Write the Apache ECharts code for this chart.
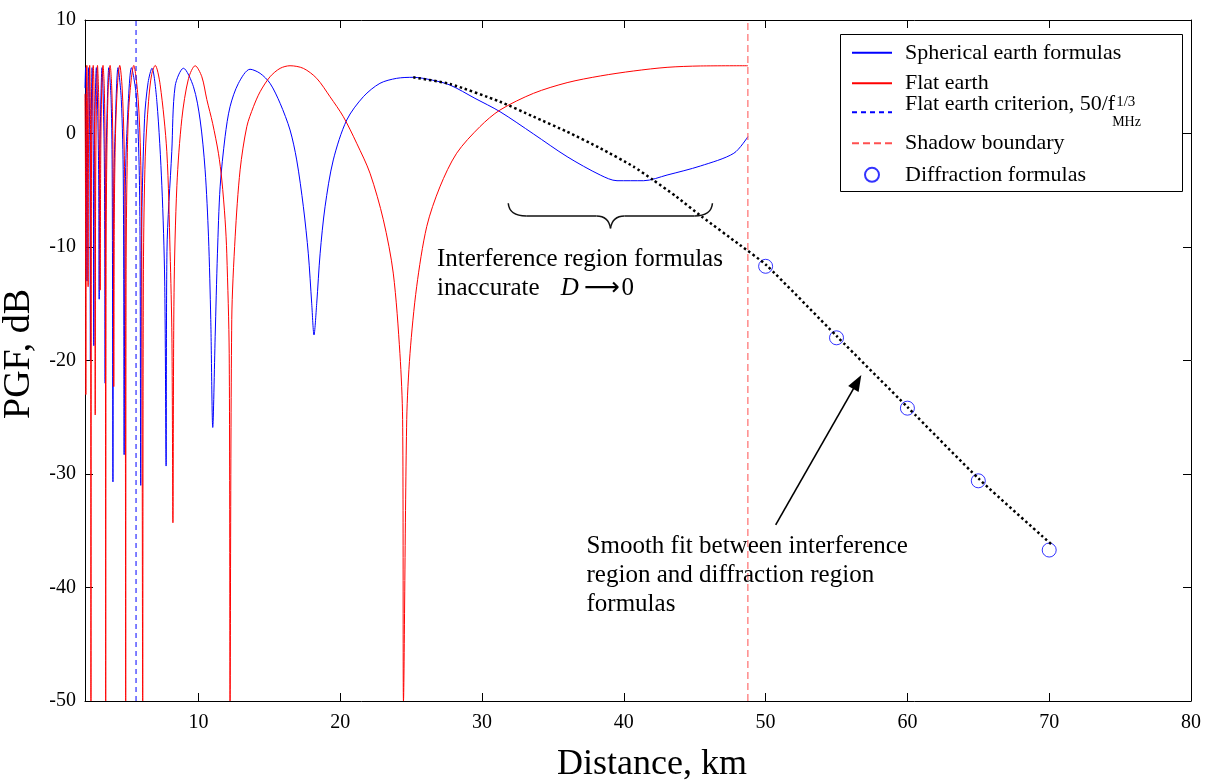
<!DOCTYPE html>
<html>
<head>
<meta charset="utf-8">
<script src="https://cdn.jsdelivr.net/npm/echarts@6/dist/echarts.min.js"></script>
<style>
html,body{margin:0;padding:0;background:#fff;}
#c{width:1205px;height:780px;}
</style>
</head>
<body>
<div id="c"></div>
<script>
// ---------- data ----------
const xTicks = [10, 20, 30, 40, 50, 60, 70, 80];
const yTicks = [-50, -40, -30, -20, -10, 0, 10];

const sphericalEarth = [
[2.0,4.0],[2.04,5.8],[2.1,-1],[2.14,-13],[2.18,-1],[2.26,5.8],[2.34,-1],[2.38,-20],[2.42,-2],[2.5,5.8],
[2.58,-1],[2.62,-18.7],[2.66,-2],[2.8,5.8],[2.95,-2],[3.0,-14.6],[3.05,-2],[3.2,5.8],[3.36,-2],[3.42,-22],
[3.47,-4],[3.56,2],[3.68,5.8],[3.84,3],[3.92,-4],[3.97,-30.7],[4.02,-6],[4.12,0],[4.33,5.8],[4.56,3],
[4.7,-4],[4.76,-28.3],[4.83,-6],[4.95,0],[5.28,5.8],[5.6,3.5],[5.8,-2],[5.88,-9],[5.93,-31],[5.99,-9],
[6.2,1.3],[6.45,4.5],[6.72,5.75],[7.07,2.8],[7.42,-4.6],[7.62,-13],[7.72,-29.3],[7.78,-10.4],[8.12,-1.6],[8.36,4.2],
[8.94,5.75],[9.65,4.12],[10.12,1.19],[10.47,-3.2],[10.71,-9.1],[10.87,-16.4],[11.01,-25.9],[11.18,-17.9],[11.34,-10.6],[11.53,-4.7],
[11.88,-0.28],[12.23,2.36],[12.82,4.42],[13.64,5.66],[14.35,5.3],[15.05,4.42],[15.76,2.66],[16.46,0.31],[16.93,-2.33],[17.4,-6.45],
[17.75,-10.6],[17.99,-15.0],[18.15,-17.75],[18.34,-15.0],[18.58,-10.6],[18.93,-6.45],[19.51,-2.33],[20.46,1.19],[21.63,3.24],[22.8,4.42],
[23.98,4.86],[25.15,4.95],[26.5,4.7],[27.74,4.27],[29.5,3.1],[31.27,1.92],[33.63,-0.04],[36.0,-2.04],[38.34,-3.66],[39.52,-4.16],
[41.4,-4.16],[43.05,-3.66],[45.41,-2.86],[47.76,-1.74],[48.75,-0.28]
];

const flatEarth = [
[2.0,3.5],[2.03,-3],[2.06,-23],[2.09,-2],[2.13,6],[2.18,0],[2.22,-13.5],[2.25,-1],[2.33,6],[2.39,0],
[2.42,-50],[2.45,-6],[2.5,2.5],[2.58,6],[2.66,2],[2.7,-6],[2.72,-24.8],[2.75,-5],[2.8,2],[2.88,6],
[2.97,3],[3.03,-4],[3.07,-13.8],[3.11,-2],[3.18,4],[3.27,6],[3.37,3.5],[3.43,-4],[3.46,-50],[3.49,-10],
[3.55,-1],[3.65,4.5],[3.77,6],[3.9,3.5],[3.98,-3],[4.03,-22.3],[4.07,-7],[4.15,0],[4.3,4.5],[4.45,6],
[4.62,4],[4.76,-1],[4.83,-9],[4.87,-50],[4.9,-12],[4.97,-3],[5.1,2.5],[5.44,6],[5.75,3],[5.92,-2],
[6.0,-9],[6.07,-50],[6.12,-12],[6.25,-2],[6.48,2.8],[6.7,5.2],[6.95,6],[7.3,4.3],[7.77,-1.6],[8.0,-10.4],
[8.13,-18],[8.2,-34.3],[8.28,-14],[8.48,-4.6],[8.83,1.3],[9.3,4.85],[9.77,5.97],[10.24,5.0],[10.59,3.0],[11.0,0.9],
[11.41,-1.74],[11.65,-4.1],[11.88,-7.6],[12.0,-10.6],[12.17,-19.4],[12.23,-50],[12.35,-16.4],[12.59,-9.1],[12.94,-3.2],[13.41,0.6],
[13.88,2.36],[14.35,3.68],[15.05,5.0],[15.76,5.74],[16.46,5.97],[17.4,5.74],[18.34,4.86],[19.28,3.24],[20.22,1.48],[21.16,-0.86],
[22.1,-3.5],[23.04,-7.6],[23.74,-12.3],[24.21,-19.4],[24.4,-25.2],[24.46,-50],[24.69,-25.2],[24.92,-19.4],[25.39,-13.5],[26.1,-8.2],
[27.03,-4.7],[28.21,-1.74],[29.85,0.6],[31.27,2.07],[33.63,3.54],[36.0,4.48],[38.34,5.07],[40.7,5.51],[43.05,5.83],[45.41,5.95],
[48.75,5.97]
];

const flatEarthCriterion = [[5.6,-50],[5.6,10]];
const shadowBoundary = [[48.75,-50],[48.75,10]];
const diffraction = [[50,-11.7],[55,-18.0],[60,-24.2],[65,-30.6],[70,-36.7]];
const smoothFit = [
[25.15,4.95],[27.74,4.36],[31.27,2.8],[33.63,1.48],[35.99,0.16],[38.34,-1.3],[40.69,-2.92],[42.07,-4.1],
[43.71,-5.57],[45.5,-7.33],[48.18,-9.82],[50.05,-11.6],[55.05,-17.9],[60.04,-24.15],[65.1,-30.5],[70.25,-36.3]
];

// ---------- chart ----------
const FONT = '"Liberation Serif", "Times New Roman", serif';
const BLUE = '#0000ff', RED = '#ff0000';
const LEG_SIZE = 22;

const mctx = document.createElement('canvas').getContext('2d');
mctx.font = LEG_SIZE + 'px "Liberation Serif"';
const wCrit = mctx.measureText('Flat earth criterion, 50/f').width;

const legendBase = {
  orient: 'vertical', left: 851, padding: 0, itemWidth: 40, itemHeight: 14,
  selectedMode: false,
  textStyle: {fontFamily: FONT, fontSize: LEG_SIZE, lineHeight: 21, color: '#000', padding: [0, 0, 0, 8]}
};

const axisLineStyle = {show: true, onZero: false, lineStyle: {color: '#000', width: 1}};

const chart = echarts.init(document.getElementById('c'), null, {renderer: 'canvas'});
const option = {
  animation: false,
  backgroundColor: '#fff',
  textStyle: {fontFamily: FONT},
  grid: {left: 85, right: 14, top: 20, bottom: 79, containLabel: false, outerBoundsMode: 'none'},
  xAxis: [
    {type: 'value', min: 2, max: 80, position: 'bottom',
     name: 'Distance, km', nameLocation: 'middle', nameGap: 46,
     nameTextStyle: {fontFamily: FONT, fontSize: 36, color: '#000', padding: [0, 0, 0, 28]},
     axisLine: axisLineStyle,
     axisTick: {show: true, inside: true, length: 8, customValues: xTicks, lineStyle: {color: '#000'}},
     axisLabel: {show: true, customValues: xTicks, fontFamily: FONT, fontSize: 20, color: '#000', margin: 12},
     splitLine: {show: false}},
    {type: 'value', min: 2, max: 80, position: 'top',
     axisLine: axisLineStyle,
     axisTick: {show: true, inside: true, length: 8, customValues: xTicks, lineStyle: {color: '#000'}},
     axisLabel: {show: false}, splitLine: {show: false}}
  ],
  yAxis: [
    {type: 'value', min: -50, max: 10, interval: 10, position: 'left',
     name: 'PGF, dB', nameLocation: 'middle', nameGap: 27, nameRotate: 90,
     nameTextStyle: {fontFamily: FONT, fontSize: 38, color: '#000', padding: [0, 0, 0, 13]},
     axisLine: axisLineStyle,
     axisTick: {show: true, inside: true, length: 8, customValues: yTicks, lineStyle: {color: '#000'}},
     axisLabel: {show: true, customValues: yTicks, fontFamily: FONT, fontSize: 20, color: '#000', margin: 9},
     splitLine: {show: false}},
    {type: 'value', min: -50, max: 10, interval: 10, position: 'right',
     axisLine: axisLineStyle,
     axisTick: {show: true, inside: true, length: 8, customValues: yTicks, lineStyle: {color: '#000'}},
     axisLabel: {show: false}, splitLine: {show: false}}
  ],
  legend: [
    Object.assign({}, legendBase, {top: 41.8, itemGap: 8.4, itemStyle: {opacity: 0},
      data: ['Spherical earth formulas', 'Flat earth']}),
    Object.assign({}, legendBase, {top: 93.7, itemGap: 0, itemStyle: {opacity: 0},
      data: ['Flat earth criterion'],
      formatter: function () { return '{m|Flat earth criterion, 50/f}{sup|1/3}\n{gap| }{sub|MHz}'; },
      textStyle: Object.assign({}, legendBase.textStyle, {
        rich: {
          m: {fontFamily: FONT, fontSize: LEG_SIZE, lineHeight: 21, color: '#000'},
          sup: {fontFamily: FONT, fontSize: 15, lineHeight: 8, verticalAlign: 'top', color: '#000', padding: [0, 0, 0, 1]},
          gap: {fontFamily: FONT, fontSize: 14, lineHeight: 15, width: wCrit - 3},
          sub: {fontFamily: FONT, fontSize: 14, lineHeight: 15, color: '#000'}
        }
      })}),
    Object.assign({}, legendBase, {top: 132.2, itemGap: 9.6,
      data: [{name: 'Shadow boundary', itemStyle: {opacity: 0}}, 'Diffraction formulas']})
  ],
  series: [
    {name: 'Spherical earth formulas', type: 'line', data: sphericalEarth, symbol: 'none', showSymbol: false,
     smooth: 0.3,
     lineStyle: {color: BLUE, width: 1}, itemStyle: {color: BLUE}, z: 3},
    {name: 'Flat earth', type: 'line', data: flatEarth, symbol: 'none', showSymbol: false,
     smooth: 0.3,
     lineStyle: {color: RED, width: 1}, itemStyle: {color: RED}, z: 3},
    {name: 'Flat earth criterion', type: 'line', data: flatEarthCriterion, symbol: 'none', showSymbol: false,
     lineStyle: {color: BLUE, width: 1, type: [5, 4]}, itemStyle: {color: BLUE}, z: 3},
    {name: 'Shadow boundary', type: 'line', data: shadowBoundary, symbol: 'none', showSymbol: false,
     lineStyle: {color: '#ff5050', width: 1, type: [7, 4]}, itemStyle: {color: '#ff5050'}, z: 3},
    {name: 'Diffraction formulas', type: 'scatter', data: diffraction, symbol: 'circle', symbolSize: 14,
     itemStyle: {color: 'rgba(0,0,0,0)', borderColor: BLUE, borderWidth: 1}, z: 3},
    {name: 'Smooth fit', type: 'line', data: smoothFit, symbol: 'none', showSymbol: false, smooth: 0.2,
     lineStyle: {color: '#000', width: 2.5, type: [2.5, 2.8]}, z: 4}
  ]
};
chart.setOption(option);

// ---------- annotations (anchored in data coordinates) ----------
function P(x, y) { return chart.convertToPixel({xAxisIndex: 0, yAxisIndex: 0}, [x, y]); }
const ANN_FONT = '25px "Liberation Serif"';

const brace = {x0: 31.85, x1: 46.25, mid: 39.06, yEnd: -6.15, yBar: -7.27, yTip: -8.35};
const bL = P(brace.x0, brace.yEnd), bR = P(brace.x1, brace.yEnd), bM = P(brace.mid, brace.yTip);
const by = P(brace.mid, brace.yBar)[1];
const braceStyle = {stroke: '#111', lineWidth: 1.5, fill: null};

const arrowTail = P(50.71, -34.49), arrowHead = P(56.75, -21.28);
const dx = arrowHead[0] - arrowTail[0], dy = arrowHead[1] - arrowTail[1];
const len = Math.sqrt(dx * dx + dy * dy), ux = dx / len, uy = dy / len, nx = -uy, ny = ux;
const headL = 16, headW = 6;

const t1 = P(26.82, -11.13), t2 = P(26.82, -13.63);
const s1 = P(37.37, -36.39), s2 = P(37.37, -38.94), s3 = P(37.37, -41.52);

function txt(p, text) {
  return {type: 'text', x: p[0], y: p[1], z: 10,
    style: {text: text, font: ANN_FONT, fill: '#000', align: 'left', verticalAlign: 'middle'}};
}

const elements = [
  {type: 'rect', z: 0, shape: {x: 840.5, y: 34.5, width: 342, height: 157},
   style: {fill: '#fff', stroke: '#000', lineWidth: 1}},
  {type: 'bezierCurve', z: 10, shape: {x1: bL[0], y1: bL[1], cpx1: bL[0] + 1, cpy1: by, x2: bL[0] + 18, y2: by}, style: braceStyle},
  {type: 'line', z: 10, shape: {x1: bL[0] + 18, y1: by, x2: bM[0] - 14, y2: by}, style: braceStyle},
  {type: 'bezierCurve', z: 10, shape: {x1: bM[0] - 14, y1: by, cpx1: bM[0] - 2, cpy1: by, x2: bM[0], y2: bM[1]}, style: braceStyle},
  {type: 'bezierCurve', z: 10, shape: {x1: bM[0], y1: bM[1], cpx1: bM[0] + 2, cpy1: by, x2: bM[0] + 14, y2: by}, style: braceStyle},
  {type: 'line', z: 10, shape: {x1: bM[0] + 14, y1: by, x2: bR[0] - 18, y2: by}, style: braceStyle},
  {type: 'bezierCurve', z: 10, shape: {x1: bR[0] - 18, y1: by, cpx1: bR[0] - 1, cpy1: by, x2: bR[0], y2: bR[1]}, style: braceStyle},
  {type: 'line', z: 10, shape: {x1: arrowTail[0], y1: arrowTail[1], x2: arrowHead[0] - ux * 12, y2: arrowHead[1] - uy * 12},
   style: {stroke: '#000', lineWidth: 1.6}},
  {type: 'polygon', z: 10, shape: {points: [
     [arrowHead[0], arrowHead[1]],
     [arrowHead[0] - ux * headL + nx * headW, arrowHead[1] - uy * headL + ny * headW],
     [arrowHead[0] - ux * headL - nx * headW, arrowHead[1] - uy * headL - ny * headW]]},
   style: {fill: '#000'}},
  txt(t1, 'Interference region formulas'),
  {type: 'text', x: t2[0], y: t2[1], z: 10,
   style: {text: '{n|inaccurate}{sp| }{d|D}{sp2| }{ar|⟶}{sp3| }{n|0}', align: 'left', verticalAlign: 'middle',
     rich: {
       n: {font: ANN_FONT, fill: '#000'},
       sp: {font: ANN_FONT, width: 21},
       d: {font: 'italic 25px "Liberation Serif"', fill: '#000'},
       sp2: {font: ANN_FONT, width: 5},
       ar: {font: '25px "DejaVu Sans"', fill: '#000'},
       sp3: {font: ANN_FONT, width: 2}
     }}},
  txt(s1, 'Smooth fit between interference'),
  txt(s2, 'region and diffraction region'),
  txt(s3, 'formulas')
];
chart.setOption({graphic: {elements: elements}});
</script>
</body>
</html>
